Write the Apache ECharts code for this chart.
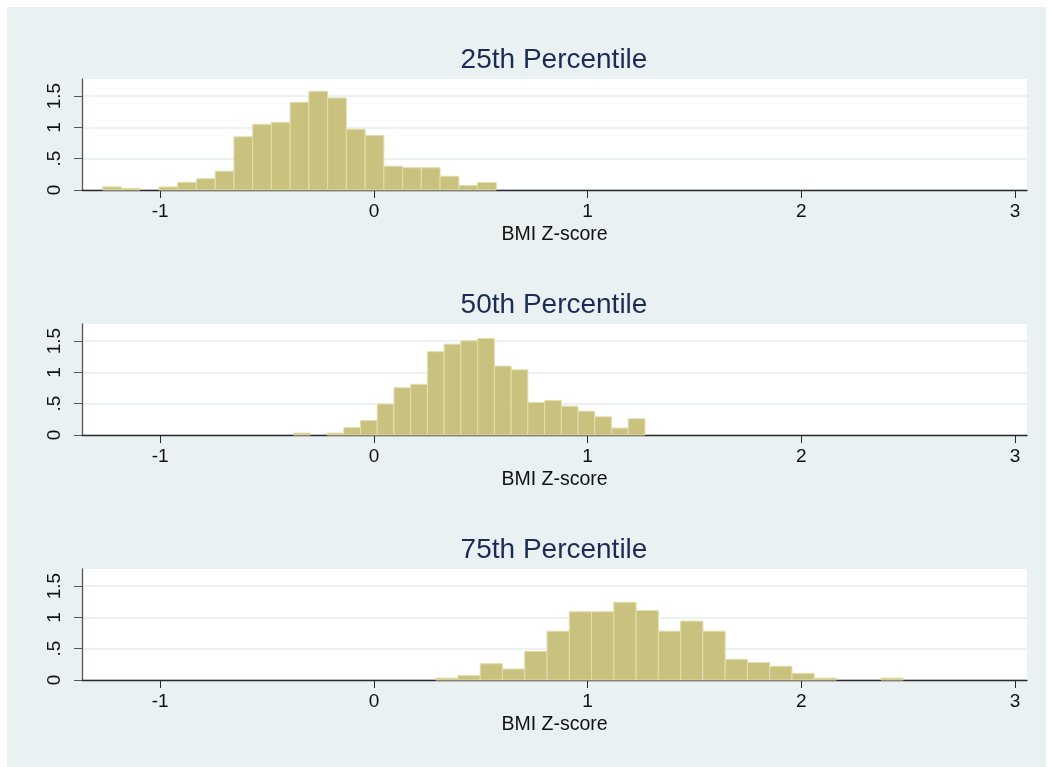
<!DOCTYPE html>
<html>
<head>
	<meta charset="utf-8"/>
	<title>BMI Z-score histograms</title>
	<style>
		html, body { margin: 0; padding: 0; background: #fff; }
		#chart { width: 1049px; height: 767px; }
	</style>
</head>
<body>
	<div id="chart"></div>

	<script src="https://cdn.jsdelivr.net/npm/echarts@6/dist/echarts.min.js"></script>
	<script>
		// panel titles
		var panelTitles = ['25th Percentile', '50th Percentile', '75th Percentile'];

		// histogram bins: left edge of first bin and bin width for each panel
		var binStart = [-1.269, -0.376, 0.289];
		var binWidth = [0.0877, 0.0783, 0.1042];

		// densities
		var dens25 = [0.05, 0.027, 0, 0.048, 0.122, 0.18, 0.30, 0.85, 1.05, 1.08, 1.40,
			1.575, 1.47, 0.97, 0.87, 0.38, 0.356, 0.356, 0.22, 0.07, 0.12];
		var dens50 = [0.03, 0, 0.03, 0.117, 0.23, 0.495, 0.755, 0.81, 1.33, 1.45, 1.505,
			1.54, 1.10, 1.04, 0.52, 0.55, 0.46, 0.38, 0.29, 0.11, 0.26];
		var dens75 = [0.03, 0.07, 0.26, 0.175, 0.457, 0.78, 1.09, 1.09, 1.24, 1.11, 0.78,
			0.94, 0.78, 0.33, 0.28, 0.22, 0.106, 0.03, 0, 0, 0.03];

		var xTicks = [-1, 0, 1, 2, 3];
		var yTicks = [0, 0.5, 1, 1.5];
		var xMin = -1.366, xMax = 3.056;
		var yMax = 1.772;

		var allDens = [dens25, dens50, dens75];
		var chart = echarts.init(document.getElementById('chart'));

		var panelTop = [79, 324, 569];
		var grids = [], xAxes = [], yAxes = [], series = [], titles = [];

		for (var p = 0; p < 3; p++) {
			grids.push({ left: 82, width: 945, top: panelTop[p], height: 111, containLabel: false,
				show: true, backgroundColor: '#fff', borderWidth: 0 });

			titles.push({
				text: panelTitles[p], left: 549, top: panelTop[p] - 38, textAlign: 'center',
				textStyle: { fontFamily: 'Liberation Sans, Arial', fontWeight: 'normal', fontSize: 28, color: '#1c2b55' }
			});

			xAxes.push({
				gridIndex: p, type: 'value', min: xMin, max: xMax,
				name: 'BMI Z-score', nameLocation: 'middle', nameGap: 35,
				nameTextStyle: { fontFamily: 'Liberation Sans, Arial', fontSize: 19.5, color: '#111' },
				axisLine: { show: true, onZero: false, lineStyle: { color: '#2a2a2a', width: 1.3 } },
				axisTick: { show: true, length: 8, customValues: xTicks, lineStyle: { color: '#2a2a2a' } },
				axisLabel: { customValues: xTicks, margin: 12, fontFamily: 'Liberation Sans, Arial', fontSize: 19, color: '#111' },
				splitLine: { show: false }
			});

			yAxes.push({
				gridIndex: p, type: 'value', min: 0, max: yMax,
				axisLine: { show: true, onZero: false, lineStyle: { color: '#555', width: 1.3 } },
				axisTick: { show: true, length: 8, customValues: yTicks, lineStyle: { color: '#555' } },
				axisLabel: {
					customValues: yTicks, rotate: 90, margin: 18,
					fontFamily: 'Liberation Sans, Arial', fontSize: 19, color: '#111',
					formatter: function (v) {
						if (v === 0) return '0';
						if (v === 0.5) return '.5';
						return String(v);
					}
				},
				splitLine: { show: true, lineStyle: { color: '#e6eef1', width: 1.5 } }
			});

			(function (p) {
				var d = allDens[p];
				var rows = [];
				for (var i = 0; i < d.length; i++) {
					rows.push([binStart[p] + i * binWidth[p], binStart[p] + (i + 1) * binWidth[p], d[i]]);
				}
				series.push({
					type: 'custom', xAxisIndex: p, yAxisIndex: p,
					data: rows,
					encode: { x: [0, 1], y: 2 },
					renderItem: function (params, api) {
						var h = api.value(2);
						if (h <= 0) return;
						var a = api.coord([api.value(0), h]);
						var b = api.coord([api.value(1), 0]);
						return {
							type: 'rect',
							shape: { x: a[0], y: a[1], width: b[0] - a[0], height: b[1] - a[1] },
							style: { fill: '#c9c27f', stroke: '#e2deae', lineWidth: 1 }
						};
					}
				});
			})(p);
		}

		var option = {
			animation: false,
			graphic: [{
				type: 'rect', silent: true, z: -10,
				shape: { x: 7, y: 7, width: 1039, height: 760 },
				style: { fill: '#eaf1f3' }
			}],
			title: titles,
			grid: grids,
			xAxis: xAxes,
			yAxis: yAxes,
			series: series
		};

		chart.setOption(option);
	</script>
</body>
</html>
